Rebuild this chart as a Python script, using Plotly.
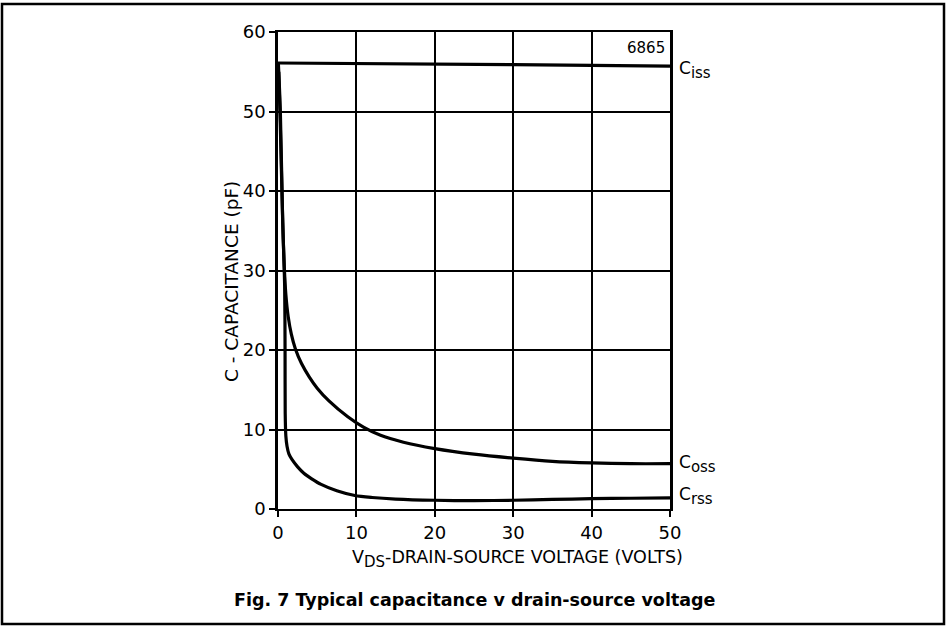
import plotly.graph_objects as go

# Data
ciss_v = [0, 10, 20, 30, 40, 50]
ciss_c = [56.1, 56.0, 55.95, 55.9, 55.8, 55.7]

coss_v = [0.05, 0.3, 0.6, 0.8, 1.0, 1.3, 1.7, 2.2, 3.0, 4.0, 5.0, 6.5, 8.9, 10.9, 13, 16, 20, 25, 30, 35, 40, 45, 50]
coss_c = [56.0, 50.0, 36.0, 30.5, 27.0, 24.2, 22.0, 20.2, 18.3, 16.6, 15.2, 13.6, 11.6, 10.3, 9.3, 8.4, 7.6, 6.9, 6.4, 6.0, 5.8, 5.7, 5.7]

crss_v = [0.1, 0.3, 0.5, 0.7, 0.85, 0.9, 0.92, 1.0, 1.15, 1.4, 1.8, 2.5, 3.3, 4.3, 5.5, 7.5, 9.8, 12, 15, 20, 25, 30, 35, 40, 45, 50]
crss_c = [55.0, 48.0, 40.0, 33.0, 28.0, 20.0, 12.0, 9.2, 7.9, 6.9, 6.2, 5.3, 4.5, 3.8, 3.1, 2.3, 1.7, 1.45, 1.25, 1.1, 1.05, 1.1, 1.2, 1.3, 1.35, 1.4]

x_ticks = [0, 10, 20, 30, 40, 50]
y_ticks = [0, 10, 20, 30, 40, 50, 60]

FONT = "DejaVu Sans"
W, H = 951, 627
L, R, T, B = 278, 281, 32, 118

fig = go.Figure()
line_style = dict(color="black", width=3.2, shape="spline", smoothing=0.8)
fig.add_trace(go.Scatter(x=ciss_v, y=ciss_c, mode="lines", line=dict(color="black", width=3.2), cliponaxis=False))
fig.add_trace(go.Scatter(x=coss_v, y=coss_c, mode="lines", line=line_style, cliponaxis=False))
fig.add_trace(go.Scatter(x=crss_v, y=crss_c, mode="lines", line=line_style, cliponaxis=False))

pw = W - L - R
ph = H - T - B

def px_to_paper_x(px):
    return (px - L) / pw

def px_to_paper_y(py):
    return (H - B - py) / ph

shapes = [
    dict(type="rect", xref="paper", yref="paper",
         x0=px_to_paper_x(2), x1=px_to_paper_x(944),
         y0=px_to_paper_y(624), y1=px_to_paper_y(4),
         line=dict(color="black", width=2.5), layer="above"),
]

def sub_label(main, sub):
    return f"{main}<sub><span style='font-size:15px'>{sub}</span></sub>"

annotations = [
    dict(x=50, y=55.7, xref="x", yref="y", xanchor="left", yanchor="middle", xshift=7, yshift=-4,
         text=sub_label("C", "iss"), showarrow=False, font=dict(family=FONT, size=17, color="black")),
    dict(x=50, y=5.7, xref="x", yref="y", xanchor="left", yanchor="middle", xshift=7, yshift=0,
         text=sub_label("C", "oss"), showarrow=False, font=dict(family=FONT, size=17, color="black")),
    dict(x=50, y=1.4, xref="x", yref="y", xanchor="left", yanchor="middle", xshift=7, yshift=2,
         text=sub_label("C", "rss"), showarrow=False, font=dict(family=FONT, size=17, color="black")),
    dict(x=50, y=60, xref="x", yref="y", xanchor="right", yanchor="top", xshift=-3, yshift=-5,
         text="6865", showarrow=False, font=dict(family=FONT, size=15, color="black")),
    dict(x=px_to_paper_x(517), y=px_to_paper_y(559), xref="paper", yref="paper", xanchor="center", yanchor="middle",
         text="V<sub><span style='font-size:15px'>DS</span></sub>-DRAIN-SOURCE VOLTAGE (VOLTS)", showarrow=False,
         font=dict(family=FONT, size=17.5, color="black")),
    dict(x=px_to_paper_x(475), y=px_to_paper_y(600), xref="paper", yref="paper", xanchor="center", yanchor="middle",
         text="<b>Fig. 7 Typical capacitance v drain-source voltage</b>", showarrow=False,
         font=dict(family=FONT, size=17.5, color="black")),
    dict(x=px_to_paper_x(231), y=px_to_paper_y(282), xref="paper", yref="paper", xanchor="center", yanchor="middle",
         text="C - CAPACITANCE (pF)", textangle=-90, showarrow=False,
         font=dict(family=FONT, size=18.5, color="black")),
]

fig.update_layout(
    width=W, height=H,
    margin=dict(l=L, r=R, t=T, b=B),
    paper_bgcolor="white", plot_bgcolor="white",
    showlegend=False,
    shapes=shapes,
    annotations=annotations,
    font=dict(family=FONT, color="black"),
)
fig.update_xaxes(
    range=[0, 50], tickvals=x_ticks, ticktext=[str(v) for v in x_ticks],
    showgrid=True, gridcolor="black", gridwidth=1.5,
    showline=True, linecolor="black", linewidth=2, mirror=True,
    ticks="outside", ticklen=6, tickwidth=2, tickcolor="black",
    tickfont=dict(family=FONT, size=18, color="black"),
    zeroline=False, fixedrange=True,
)
fig.update_yaxes(
    range=[0, 60], tickvals=y_ticks, ticktext=[str(v) for v in y_ticks],
    showgrid=True, gridcolor="black", gridwidth=1.5,
    showline=True, linecolor="black", linewidth=2.5, mirror=True,
    ticks="outside", ticklen=6, tickwidth=2, tickcolor="black",
    tickfont=dict(family=FONT, size=18, color="black"),
    zeroline=False, fixedrange=True,
)

fig.write_html("out.html")
